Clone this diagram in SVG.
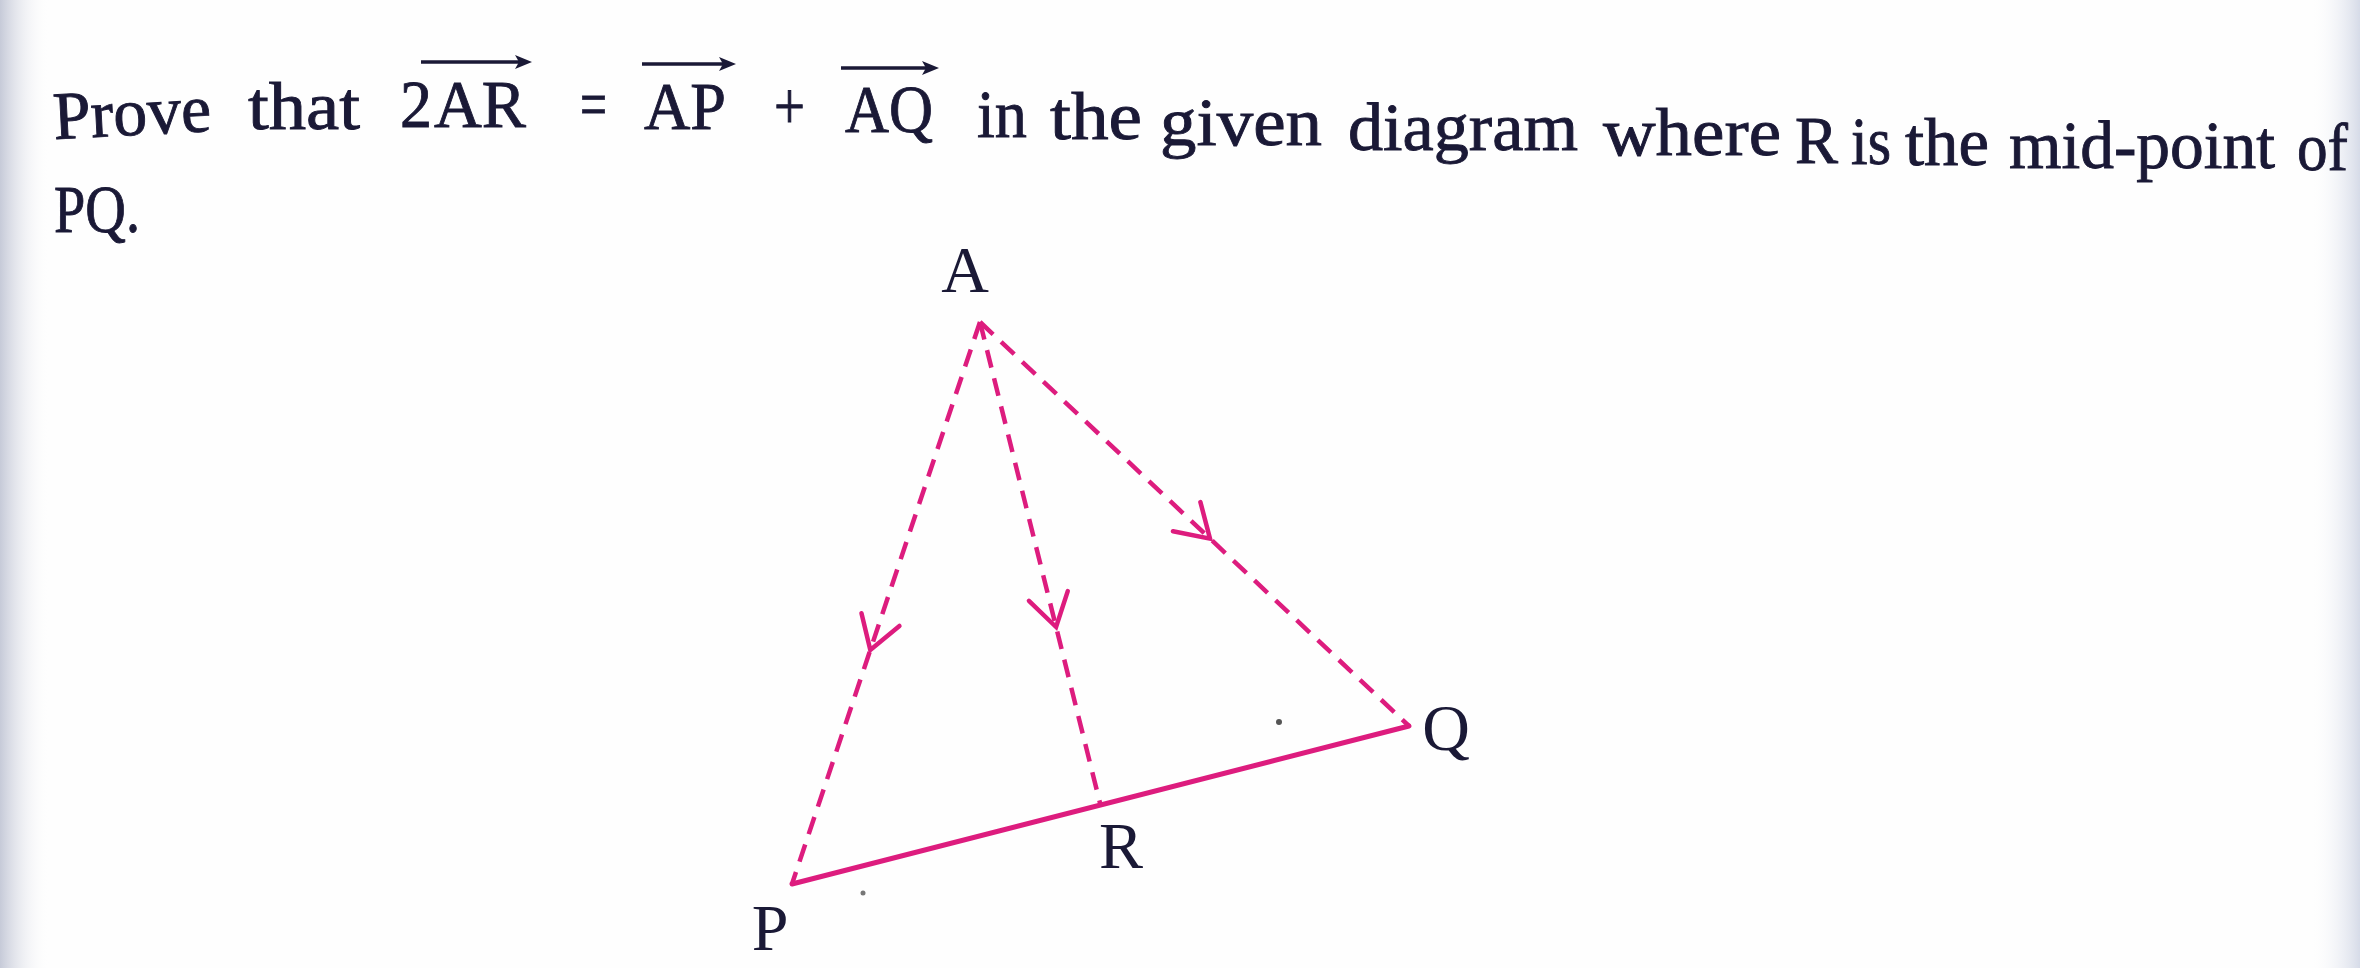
<svg xmlns="http://www.w3.org/2000/svg" width="2360" height="968" viewBox="0 0 2360 968">
<style>
.t{font-family:"Liberation Serif","Times New Roman",serif;font-size:68px;fill:#1a1936;stroke:#1a1936;stroke-width:0.9}
.lbl{font-family:"Liberation Serif","Times New Roman",serif;font-size:66px;fill:#1a1936;text-anchor:middle}
.dash{fill:none;stroke:#dd1c7e;stroke-width:4.5;stroke-dasharray:18 11;marker-mid:url(#chev)}
.solid{fill:none;stroke:#dd1c7e;stroke-width:5;stroke-linecap:round}
.vec{stroke:#1a1936;stroke-width:3.5;fill:none}
.vh{fill:#1a1936}
</style>
<defs>
<linearGradient id="edgeL" x1="0" y1="0" x2="1" y2="0">
<stop offset="0" stop-color="#c6cad8"/>
<stop offset="1" stop-color="#ffffff" stop-opacity="0"/>
</linearGradient>
<linearGradient id="edgeR" x1="1" y1="0" x2="0" y2="0">
<stop offset="0" stop-color="#d6dbe8"/>
<stop offset="1" stop-color="#ffffff" stop-opacity="0"/>
</linearGradient>
<marker id="chev" markerUnits="userSpaceOnUse" orient="auto" refX="0" refY="0" markerWidth="1" markerHeight="1" overflow="visible">
<path d="M-32,-20 L0,0 L-32,20" fill="none" stroke="#dd1c7e" stroke-width="4.5" stroke-dasharray="none" stroke-linecap="round"/>
</marker>
</defs>
<rect width="2360" height="968" fill="#fefefe"/>
<rect x="0" y="0" width="50" height="968" fill="url(#edgeL)"/>
<rect x="2310" y="0" width="50" height="968" fill="url(#edgeR)"/>

<g id="question">
<text class="t" x="54" y="131" textLength="158" lengthAdjust="spacingAndGlyphs" transform="rotate(-3 212 131)">Prove</text>
<text class="t" x="248" y="129" textLength="112" lengthAdjust="spacingAndGlyphs">that</text>
<text class="t" x="400" y="127" textLength="32" lengthAdjust="spacingAndGlyphs">2</text>
<text class="t" x="434" y="127" textLength="92" lengthAdjust="spacingAndGlyphs">AR</text>
<line class="vec" x1="421" y1="62" x2="520" y2="62"/>
<path class="vh" d="M532,62 L515,55 L519,62 L515,69 Z"/>
<text class="t" x="580" y="127" textLength="27" lengthAdjust="spacingAndGlyphs">=</text>
<text class="t" x="644" y="129" textLength="82" lengthAdjust="spacingAndGlyphs">AP</text>
<line class="vec" x1="642" y1="64" x2="724" y2="64"/>
<path class="vh" d="M736,64 L719,57 L723,64 L719,71 Z"/>
<text class="t" x="774" y="129" textLength="31" lengthAdjust="spacingAndGlyphs">+</text>
<text class="t" x="845" y="132" textLength="88" lengthAdjust="spacingAndGlyphs">AQ</text>
<line class="vec" x1="841" y1="68" x2="927" y2="68"/>
<path class="vh" d="M939,68 L922,61 L926,68 L922,75 Z"/>
<text class="t" x="977" y="137" textLength="50" lengthAdjust="spacingAndGlyphs">in</text>
<text class="t" x="1050" y="139" textLength="92" lengthAdjust="spacingAndGlyphs">the</text>
<text class="t" x="1160" y="145" textLength="162" lengthAdjust="spacingAndGlyphs">given</text>
<text class="t" x="1348" y="150" textLength="230" lengthAdjust="spacingAndGlyphs">diagram</text>
<text class="t" x="1603" y="155" textLength="178" lengthAdjust="spacingAndGlyphs">where</text>
<text class="t" x="1795" y="163" textLength="43" lengthAdjust="spacingAndGlyphs">R</text>
<text class="t" x="1851" y="164" textLength="40" lengthAdjust="spacingAndGlyphs">is</text>
<text class="t" x="1905" y="165" textLength="84" lengthAdjust="spacingAndGlyphs">the</text>
<text class="t" x="2009" y="168" textLength="266" lengthAdjust="spacingAndGlyphs">mid-point</text>
<text class="t" x="2297" y="170" textLength="51" lengthAdjust="spacingAndGlyphs">of</text>
<text class="t" x="54" y="232" textLength="86" lengthAdjust="spacingAndGlyphs">PQ.</text>
</g>

<g id="connectors">
<path id="AP" class="dash" d="M980,322 L870.3,650 L792,884"/>
<path id="AR" class="dash" d="M980,322 L1056.1,627 L1100.5,805"/>
<path id="AQ" class="dash" d="M980,322 L1210,538.6 L1409,726"/>
<path id="PQ" class="solid" d="M792,884 L1409,726"/>
</g>

<g id="node-A"><text class="lbl" x="965" y="292">A</text></g>
<g id="node-P"><text class="lbl" x="770" y="950">P</text></g>
<g id="node-R"><text class="lbl" x="1121" y="868">R</text></g>
<g id="node-Q"><text class="lbl" x="1446" y="750">Q</text></g>

<circle cx="1279" cy="722" r="3" fill="#555"/>
<circle cx="863" cy="893" r="2.5" fill="#777"/>
</svg>
